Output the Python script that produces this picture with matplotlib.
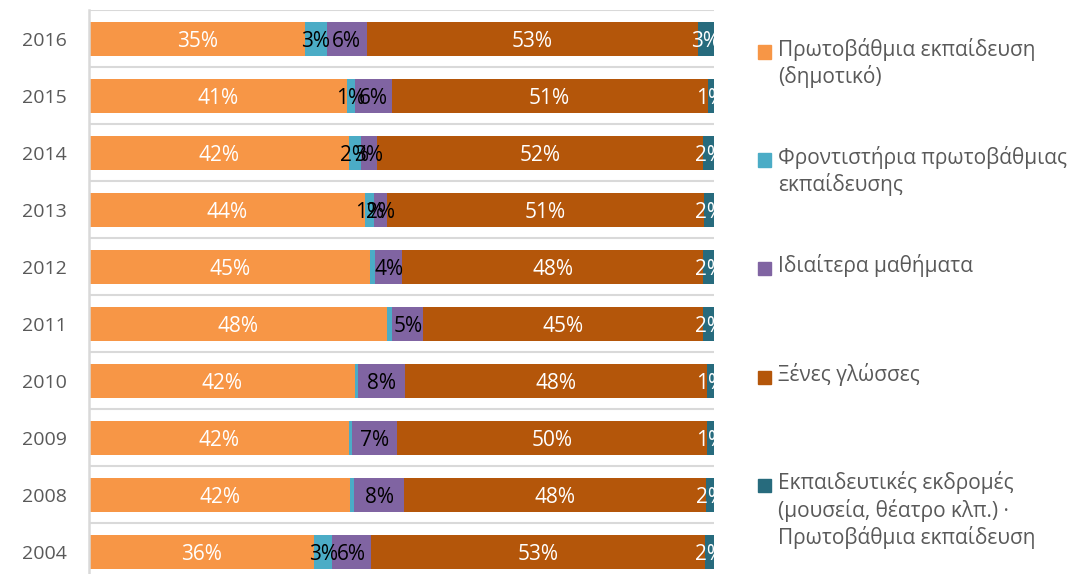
import matplotlib.pyplot as plt
import numpy as np
from matplotlib.patches import Rectangle

plt.rcParams['font.family'] = ['Open Sans', 'DejaVu Sans']

# years, bottom to top
years = ['2004', '2008', '2009', '2010', '2011', '2012', '2013', '2014', '2015', '2016']

# shares (%) per category
primary = [36.0, 41.8, 41.6, 42.5, 47.7, 45.0, 44.2, 41.6, 41.2, 34.6]
tutoring = [2.9, 0.6, 0.4, 0.5, 0.8, 0.8, 1.4, 1.9, 1.4, 3.4]
private_lessons = [6.2, 8.0, 7.3, 7.5, 5.0, 4.3, 2.1, 2.6, 5.8, 6.4]
languages = [53.4, 48.3, 49.6, 48.4, 44.8, 48.2, 50.7, 52.2, 50.6, 53.0]
trips = [1.6, 1.6, 1.1, 1.1, 1.8, 1.8, 1.6, 1.8, 1.0, 2.6]

# segments whose labels are not shown
hidden = {(1, 1), (1, 2), (1, 3), (1, 4), (1, 5)}

labels = ['Πρωτοβάθμια εκπαίδευση\n(δημοτικό)',
          'Φροντιστήρια πρωτοβάθμιας\nεκπαίδευσης',
          'Ιδιαίτερα μαθήματα',
          'Ξένες γλώσσες',
          'Εκπαιδευτικές εκδρομές\n(μουσεία, θέατρο κλπ.) ·\nΠρωτοβάθμια εκπαίδευση']
colors = ['#F79646', '#4BACC6', '#8064A2', '#B4560A', '#276B7D']
text_colors = ['white', 'black', 'black', 'white', 'white']

series = [primary, tutoring, private_lessons, languages, trips]

fig = plt.figure(figsize=(10.72, 5.74), dpi=100)
ax = fig.add_axes([89 / 1072, -0.0113, 625 / 1072, 570 / 574])

y = np.arange(len(years))
left = np.zeros(len(years))
for s, (vals, c, tc) in enumerate(zip(series, colors, text_colors)):
    vals = np.array(vals)
    ax.barh(y, vals, left=left, height=0.6, color=c, linewidth=0)
    for i, v in enumerate(vals):
        if (s, i) in hidden:
            continue
        ax.text(left[i] + v / 2, y[i], f'{v:.0f}%', ha='center', va='center_baseline',
                color=tc, fontsize=15, clip_on=True)
    left += vals

ax.set_xlim(0, 100)
ax.set_ylim(-0.5, len(years) - 0.5)
ax.set_yticks(y)
ax.set_yticklabels(years, color='#595959', fontsize=14)
ax.set_yticks(np.arange(-0.5, len(years)), minor=True)
ax.tick_params(axis='y', which='both', length=0, pad=16)
ax.set_xticks([])
ax.grid(axis='y', which='minor', color='#d9d9d9', linewidth=1.5)
ax.set_axisbelow(True)
for sp in ['top', 'right', 'bottom']:
    ax.spines[sp].set_visible(False)
ax.spines['left'].set_color('#d9d9d9')
ax.spines['left'].set_linewidth(1.8)

# legend on the right
W, H = 1072, 574
first_line_y = [52, 160, 268, 377, 485]
for lab, c, ly in zip(labels, colors, first_line_y):
    fig.patches.append(Rectangle((758 / W, 1 - (ly + 6.5) / H), 13 / W, 13 / H,
                                 transform=fig.transFigure, color=c, figure=fig))
    fig.text(778 / W, 1 - (ly - 14) / H, lab, ha='left', va='top',
             fontsize=15, color='#595959', linespacing=1.25)

fig.savefig('out.png', dpi=100)
